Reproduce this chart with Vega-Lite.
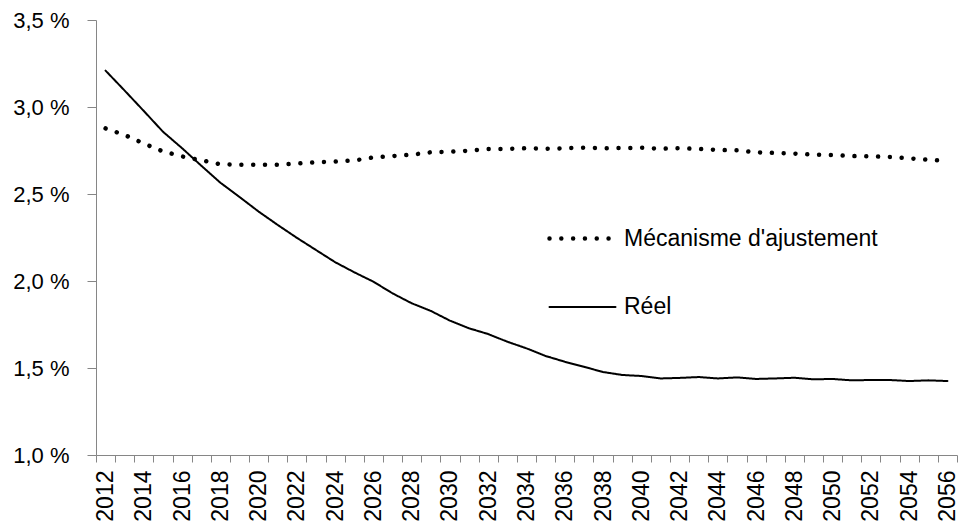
{
  "$schema": "https://vega.github.io/schema/vega-lite/v6.json",
  "width": 861,
  "height": 435,
  "autosize": {"type": "none"},
  "padding": {"left": 96, "top": 20, "right": 7, "bottom": 74},
  "background": "white",
  "config": {
    "view": {"stroke": null},
    "font": "Liberation Sans",
    "axis": {"domainColor": "#868686", "tickColor": "#868686", "labelColor": "#000000", "labelFont": "Liberation Sans", "grid": false, "title": null}
  },
  "data": {"values": [
    {"year": 2012, "series": "Réel", "value": 3.209},
    {"year": 2013, "series": "Réel", "value": 3.094},
    {"year": 2014, "series": "Réel", "value": 2.977},
    {"year": 2015, "series": "Réel", "value": 2.858},
    {"year": 2016, "series": "Réel", "value": 2.763},
    {"year": 2017, "series": "Réel", "value": 2.663},
    {"year": 2018, "series": "Réel", "value": 2.565},
    {"year": 2019, "series": "Réel", "value": 2.483},
    {"year": 2020, "series": "Réel", "value": 2.399},
    {"year": 2021, "series": "Réel", "value": 2.322},
    {"year": 2022, "series": "Réel", "value": 2.248},
    {"year": 2023, "series": "Réel", "value": 2.178},
    {"year": 2024, "series": "Réel", "value": 2.108},
    {"year": 2025, "series": "Réel", "value": 2.05},
    {"year": 2026, "series": "Réel", "value": 1.996},
    {"year": 2027, "series": "Réel", "value": 1.929},
    {"year": 2028, "series": "Réel", "value": 1.872},
    {"year": 2029, "series": "Réel", "value": 1.828},
    {"year": 2030, "series": "Réel", "value": 1.772},
    {"year": 2031, "series": "Réel", "value": 1.728},
    {"year": 2032, "series": "Réel", "value": 1.695},
    {"year": 2033, "series": "Réel", "value": 1.651},
    {"year": 2034, "series": "Réel", "value": 1.613},
    {"year": 2035, "series": "Réel", "value": 1.569},
    {"year": 2036, "series": "Réel", "value": 1.536},
    {"year": 2037, "series": "Réel", "value": 1.507},
    {"year": 2038, "series": "Réel", "value": 1.477},
    {"year": 2039, "series": "Réel", "value": 1.46},
    {"year": 2040, "series": "Réel", "value": 1.454},
    {"year": 2041, "series": "Réel", "value": 1.44},
    {"year": 2042, "series": "Réel", "value": 1.443},
    {"year": 2043, "series": "Réel", "value": 1.448},
    {"year": 2044, "series": "Réel", "value": 1.44},
    {"year": 2045, "series": "Réel", "value": 1.446},
    {"year": 2046, "series": "Réel", "value": 1.437},
    {"year": 2047, "series": "Réel", "value": 1.44},
    {"year": 2048, "series": "Réel", "value": 1.444},
    {"year": 2049, "series": "Réel", "value": 1.435},
    {"year": 2050, "series": "Réel", "value": 1.437},
    {"year": 2051, "series": "Réel", "value": 1.429},
    {"year": 2052, "series": "Réel", "value": 1.431},
    {"year": 2053, "series": "Réel", "value": 1.431},
    {"year": 2054, "series": "Réel", "value": 1.425},
    {"year": 2055, "series": "Réel", "value": 1.429},
    {"year": 2056, "series": "Réel", "value": 1.425},
    {"year": 2012, "series": "Mécanisme d'ajustement", "value": 2.877},
    {"year": 2013, "series": "Mécanisme d'ajustement", "value": 2.839},
    {"year": 2014, "series": "Mécanisme d'ajustement", "value": 2.79},
    {"year": 2015, "series": "Mécanisme d'ajustement", "value": 2.745},
    {"year": 2016, "series": "Mécanisme d'ajustement", "value": 2.716},
    {"year": 2017, "series": "Mécanisme d'ajustement", "value": 2.694},
    {"year": 2018, "series": "Mécanisme d'ajustement", "value": 2.671},
    {"year": 2019, "series": "Mécanisme d'ajustement", "value": 2.668},
    {"year": 2020, "series": "Mécanisme d'ajustement", "value": 2.668},
    {"year": 2021, "series": "Mécanisme d'ajustement", "value": 2.668},
    {"year": 2022, "series": "Mécanisme d'ajustement", "value": 2.675},
    {"year": 2023, "series": "Mécanisme d'ajustement", "value": 2.682},
    {"year": 2024, "series": "Mécanisme d'ajustement", "value": 2.686},
    {"year": 2025, "series": "Mécanisme d'ajustement", "value": 2.693},
    {"year": 2026, "series": "Mécanisme d'ajustement", "value": 2.71},
    {"year": 2027, "series": "Mécanisme d'ajustement", "value": 2.718},
    {"year": 2028, "series": "Mécanisme d'ajustement", "value": 2.726},
    {"year": 2029, "series": "Mécanisme d'ajustement", "value": 2.74},
    {"year": 2030, "series": "Mécanisme d'ajustement", "value": 2.743},
    {"year": 2031, "series": "Mécanisme d'ajustement", "value": 2.749},
    {"year": 2032, "series": "Mécanisme d'ajustement", "value": 2.759},
    {"year": 2033, "series": "Mécanisme d'ajustement", "value": 2.759},
    {"year": 2034, "series": "Mécanisme d'ajustement", "value": 2.763},
    {"year": 2035, "series": "Mécanisme d'ajustement", "value": 2.76},
    {"year": 2036, "series": "Mécanisme d'ajustement", "value": 2.763},
    {"year": 2037, "series": "Mécanisme d'ajustement", "value": 2.766},
    {"year": 2038, "series": "Mécanisme d'ajustement", "value": 2.763},
    {"year": 2039, "series": "Mécanisme d'ajustement", "value": 2.764},
    {"year": 2040, "series": "Mécanisme d'ajustement", "value": 2.766},
    {"year": 2041, "series": "Mécanisme d'ajustement", "value": 2.76},
    {"year": 2042, "series": "Mécanisme d'ajustement", "value": 2.763},
    {"year": 2043, "series": "Mécanisme d'ajustement", "value": 2.759},
    {"year": 2044, "series": "Mécanisme d'ajustement", "value": 2.753},
    {"year": 2045, "series": "Mécanisme d'ajustement", "value": 2.751},
    {"year": 2046, "series": "Mécanisme d'ajustement", "value": 2.74},
    {"year": 2047, "series": "Mécanisme d'ajustement", "value": 2.736},
    {"year": 2048, "series": "Mécanisme d'ajustement", "value": 2.732},
    {"year": 2049, "series": "Mécanisme d'ajustement", "value": 2.726},
    {"year": 2050, "series": "Mécanisme d'ajustement", "value": 2.724},
    {"year": 2051, "series": "Mécanisme d'ajustement", "value": 2.718},
    {"year": 2052, "series": "Mécanisme d'ajustement", "value": 2.716},
    {"year": 2053, "series": "Mécanisme d'ajustement", "value": 2.713},
    {"year": 2054, "series": "Mécanisme d'ajustement", "value": 2.705},
    {"year": 2055, "series": "Mécanisme d'ajustement", "value": 2.697},
    {"year": 2056, "series": "Mécanisme d'ajustement", "value": 2.69}
  ]},
  "mark": {"type": "line", "color": "#000000", "strokeCap": "round", "strokeJoin": "round"},
  "encoding": {
    "x": {
      "field": "year",
      "type": "ordinal",
      "scale": {"type": "band", "paddingInner": 0, "paddingOuter": 0},
      "axis": {
        "tickBand": "extent",
        "tickSize": 7,
        "labelAngle": 270,
        "labelFontSize": 23,
        "labelPadding": 8,
        "labelExpr": "datum.value % 2 == 0 ? datum.label : ''"
      }
    },
    "y": {
      "field": "value",
      "type": "quantitative",
      "scale": {"domain": [1, 3.5], "nice": false, "zero": false},
      "axis": {
        "values": [1, 1.5, 2, 2.5, 3, 3.5],
        "tickSize": 9,
        "labelFontSize": 22,
        "labelPadding": 18,
        "labelExpr": "replace(format(datum.value, '.1f'), '.', ',') + ' %'"
      }
    },
    "strokeDash": {
      "field": "series",
      "type": "nominal",
      "scale": {"domain": ["Mécanisme d'ajustement", "Réel"], "range": [[0.01, 11.8], [1, 0]]},
      "legend": {
        "title": null,
        "orient": "none",
        "legendX": 451,
        "legendY": 183,
        "padding": 0,
        "symbolType": "stroke",
        "symbolSize": 4356,
        "symbolStrokeColor": "#000000",
        "labelFontSize": 23,
        "labelFont": "Liberation Sans",
        "labelColor": "#000000",
        "labelOffset": 6,
        "rowPadding": 22,
        "labelLimit": 400,
        "encode": {"symbols": {"update": {"strokeCap": {"value": "round"}}}}
      }
    },
    "strokeWidth": {
      "field": "series",
      "type": "nominal",
      "scale": {"domain": ["Mécanisme d'ajustement", "Réel"], "range": [4.5, 2]},
      "legend": null
    }
  }
}
